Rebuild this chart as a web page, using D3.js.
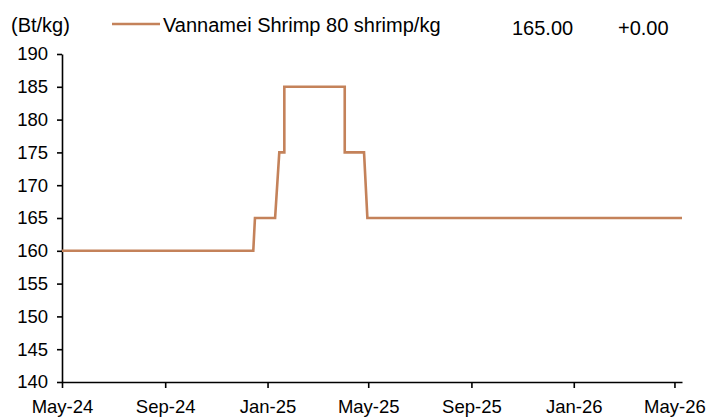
<!DOCTYPE html>
<html>
<head>
<meta charset="utf-8">
<script src="https://cdn.jsdelivr.net/npm/d3@7"></script>
<style>
	body { margin: 0; background: #fff; }
	text { font-family: "Liberation Sans", Arial, sans-serif; fill: #000; }
</style>
</head>
<body>
<script>
// chart values
var dates = ["2024-05-01", "2024-12-15", "2024-12-17", "2025-01-10", "2025-01-15", "2025-01-21",
	"2025-01-21", "2025-04-03", "2025-04-03", "2025-04-26", "2025-04-30", "2026-05-10"];
var prices = [160, 160, 165, 165, 175, 175, 185, 185, 175, 175, 165, 165];

var tickDates = ["2024-05-01", "2024-09-01", "2025-01-01", "2025-05-01", "2025-09-01", "2026-01-01", "2026-05-01"];
var tickLabels = ["May-24", "Sep-24", "Jan-25", "May-25", "Sep-25", "Jan-26", "May-26"];
var yTicks = [140, 145, 150, 155, 160, 165, 170, 175, 180, 185, 190];

var seriesName = "Vannamei Shrimp 80 shrimp/kg";
var unitLabel = "(Bt/kg)";
var lastValue = "165.00";
var changeValue = "+0.00";

//Define Margin
var margin = {left: 62, right: 43, top: 54, bottom: 37},
	width = 725 - margin.left - margin.right,
	height = 419 - margin.top - margin.bottom;

var parse = d3.timeParse("%Y-%m-%d");

var svg = d3.select("body")
	.append("svg")
	.attr("width", 725)
	.attr("height", 419);

var g = svg.append("g")
	.attr("transform", "translate(" + margin.left + "," + margin.top + ")");

// scales
var x = d3.scaleTime()
	.domain([parse("2024-05-01"), parse("2026-05-10")])
	.range([0, width]);

var y = d3.scaleLinear()
	.domain([140, 190])
	.range([height, 0]);

// axes
var yAxis = g.append("g")
	.call(d3.axisLeft(y).tickValues(yTicks).tickSize(5).tickSizeOuter(0).tickPadding(9));

var xAxis = g.append("g")
	.attr("transform", "translate(0," + height + ")")
	.call(d3.axisBottom(x)
		.tickValues(tickDates.map(parse))
		.tickFormat((d, i) => tickLabels[i])
		.tickSize(6).tickSizeOuter(0).tickPadding(12));

[xAxis, yAxis].forEach((a) => {
	a.selectAll("path, line").attr("stroke", "#000").attr("stroke-width", 1.6);
});
yAxis.selectAll("text").style("font-size", "18.5px").attr("fill", "#000");
xAxis.selectAll("text").style("font-size", "18.5px").attr("fill", "#000");

// price line
var line = d3.line()
	.x((d, i) => x(parse(dates[i])))
	.y((d) => y(d));

g.append("path")
	.datum(prices)
	.attr("d", line)
	.attr("fill", "none")
	.attr("stroke", "#c4825a")
	.attr("stroke-width", 2.6);

// header / legend
svg.append("text")
	.attr("x", 11)
	.attr("y", 32)
	.style("font-size", "20px")
	.text(unitLabel);

svg.append("line")
	.attr("x1", 112).attr("x2", 160)
	.attr("y1", 24).attr("y2", 24)
	.attr("stroke", "#c4825a")
	.attr("stroke-width", 2.6);

svg.append("text")
	.attr("x", 163)
	.attr("y", 32)
	.style("font-size", "20px")
	.text(seriesName);

svg.append("text")
	.attr("x", 512)
	.attr("y", 35)
	.style("font-size", "20px")
	.text(lastValue);

svg.append("text")
	.attr("x", 618)
	.attr("y", 35)
	.style("font-size", "20px")
	.text(changeValue);
</script>
</body>
</html>
